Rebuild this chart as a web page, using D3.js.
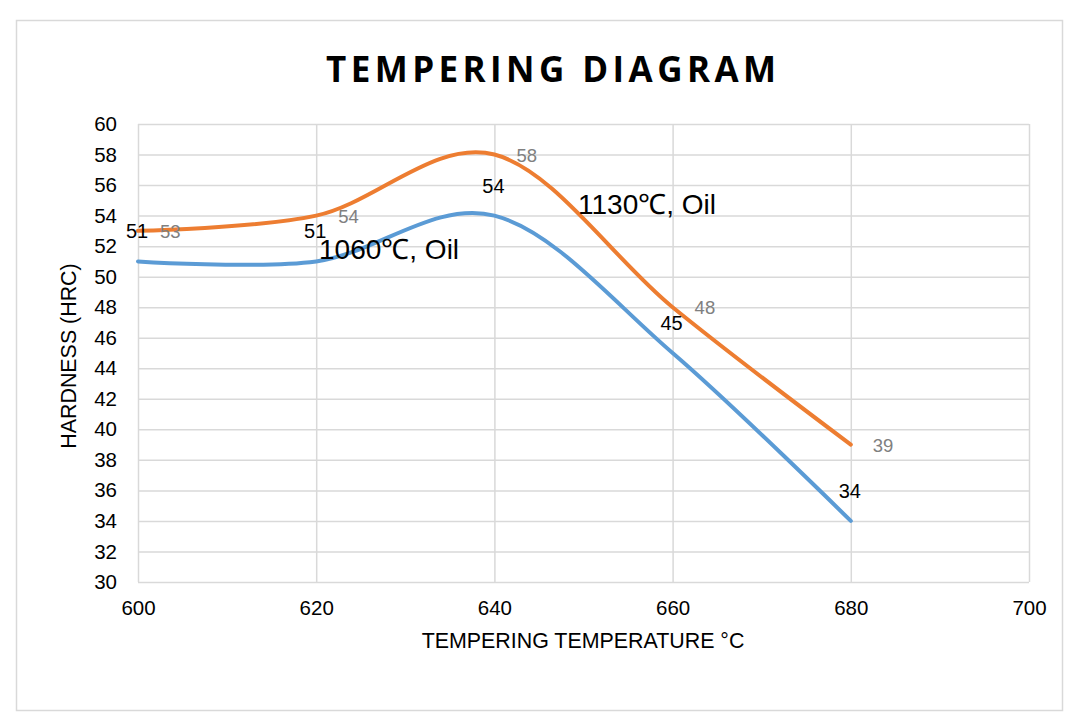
<!DOCTYPE html>
<html lang="en">
  <head>
    <meta charset="utf-8">
    <title>Tempering diagram</title>
    <script src="https://cdn.jsdelivr.net/npm/d3@7"></script>
    <style>
      body { margin: 0; background: #fff; }
      text { font-family: "Liberation Sans", Arial, sans-serif; }
    </style>
  </head>
  <body>
    <script>
      // data
      var temps = [600, 620, 640, 660, 680];
      var hard1060 = [51, 51, 54, 45, 34];
      var hard1130 = [53, 54, 58, 48, 39];
      var seriesNames = ["1060\u2103, Oil", "1130\u2103, Oil"];
      var xTicks = [600, 620, 640, 660, 680, 700];
      var yTicks = d3.range(30, 61, 2);

      var W = 1078, H = 724;
      var plotL = 138, plotR = 1029, plotT = 124, plotB = 582;

      var svg = d3.select("body").append("svg")
                  .attr("width", W)
                  .attr("height", H);

      // outer chart frame
      svg.append("rect")
         .attr("x", 16.5).attr("y", 20.5)
         .attr("width", 1046).attr("height", 690)
         .attr("fill", "#fff")
         .attr("stroke", "#d9d9d9")
         .attr("stroke-width", 1.5);

      var x = d3.scaleLinear().domain([600, 700]).range([plotL, plotR]);
      var y = d3.scaleLinear().domain([30, 60]).range([plotB, plotT]);

      // gridlines + tick labels
      var yAxis = svg.append("g")
         .attr("transform", "translate(" + plotL + ",0)")
         .call(d3.axisLeft(y).tickValues(yTicks).tickSize(-(plotR - plotL)).tickPadding(21));
      var xAxis = svg.append("g")
         .attr("transform", "translate(0," + plotB + ")")
         .call(d3.axisBottom(x).tickValues(xTicks).tickSize(-(plotB - plotT)).tickPadding(18));

      [xAxis, yAxis].forEach(function (g) {
        g.select(".domain").remove();
        g.selectAll("line").attr("stroke", "#d9d9d9").attr("stroke-width", 1.5);
        g.selectAll("text")
         .attr("font-size", "20.5px")
         .attr("fill", "#000");
      });

      // lines, Excel-style smoothing
      var line = d3.line()
                   .x(function (d) { return x(d[0]); })
                   .y(function (d) { return y(d[1]); })
                   .curve(d3.curveCardinal.tension(0));

      var series = [
        { name: seriesNames[0], values: d3.zip(temps, hard1060), color: "#5b9bd5" },
        { name: seriesNames[1], values: d3.zip(temps, hard1130), color: "#ed7d31" }
      ];

      svg.selectAll("path.series")
         .data(series)
         .enter()
         .append("path")
         .attr("class", "series")
         .attr("d", function (d) { return line(d.values); })
         .attr("fill", "none")
         .attr("stroke", function (d) { return d.color; })
         .attr("stroke-width", 4)
         .attr("stroke-linecap", "round");

      // value labels: 1060 above the point, 1130 to the right
      svg.selectAll("text.lab1060")
         .data(series[0].values)
         .enter()
         .append("text")
         .attr("class", "lab1060")
         .attr("x", function (d) { return x(d[0]) - 1; })
         .attr("y", function (d) { return y(d[1]) - 23; })
         .attr("text-anchor", "middle")
         .attr("font-size", "20px")
         .attr("fill", "#000")
         .text(function (d) { return d[1]; });

      svg.selectAll("text.lab1130")
         .data(series[1].values)
         .enter()
         .append("text")
         .attr("class", "lab1130")
         .attr("x", function (d) { return x(d[0]) + 22; })
         .attr("y", function (d) { return y(d[1]) + 7; })
         .attr("font-size", "18.5px")
         .attr("fill", "#808080")
         .text(function (d) { return d[1]; });

      // series name labels
      svg.append("text")
         .attr("x", 319).attr("y", 259)
         .attr("font-size", "28px")
         .text(seriesNames[0]);
      svg.append("text")
         .attr("x", 578).attr("y", 214)
         .attr("font-size", "28px")
         .text(seriesNames[1]);

      // axis titles
      svg.append("text")
         .attr("x", 583).attr("y", 648)
         .attr("text-anchor", "middle")
         .attr("font-size", "21.4px")
         .text("TEMPERING TEMPERATURE \u00b0C");

      svg.append("text")
         .attr("transform", "translate(76,356) rotate(-90)")
         .attr("text-anchor", "middle")
         .attr("font-size", "21.4px")
         .text("HARDNESS (HRC)");

      // title, spaced out to the measured width
      var title = svg.append("text")
         .attr("x", 326).attr("y", 82)
         .style("font-family", "'Open Sans', sans-serif")
         .style("font-weight", "bold")
         .style("font-size", "35px")
         .attr("fill", "#000")
         .text("TEMPERING DIAGRAM");
      var natural = title.node().getComputedTextLength();
      title.style("letter-spacing", ((450 - natural) / 16) + "px");
    </script>
  </body>
</html>
